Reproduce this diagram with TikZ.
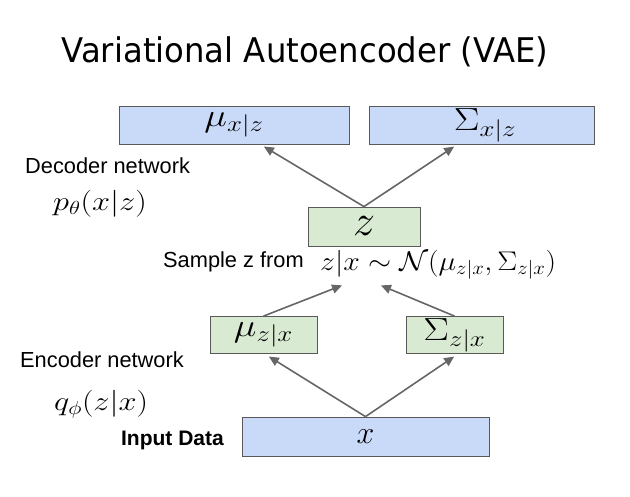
\RequirePackage{fix-cm}
\documentclass[tikz,border=0pt]{standalone}
\usepackage{fontspec}
\setsansfont{Liberation Sans}
\newfontfamily\titlefont{DejaVu Sans}
\usetikzlibrary{arrows.meta}
\definecolor{boxblue}{HTML}{C9DAF8}
\definecolor{boxgreen}{HTML}{D9EAD3}
\definecolor{edgegray}{HTML}{595959}
\definecolor{arrowgray}{HTML}{666666}
\newcommand{\wide}[2][1.2]{\scalebox{#1}[1]{$#2$}}
\begin{document}
\begin{tikzpicture}[x=1pt, y=-1pt,
  bluebox/.style={draw=edgegray, line width=0.8pt, fill=boxblue, inner sep=0pt},
  greenbox/.style={draw=edgegray, line width=0.8pt, fill=boxgreen, inner sep=0pt},
  link/.style={draw=arrowgray, line width=1.6pt, -{Triangle[length=10pt,width=9pt]}, shorten >=1pt},
  lbl/.style={font=\sffamily\fontsize{21.8}{25}\selectfont, anchor=west, inner sep=0pt},
  mth/.style={font=\fontsize{32}{38}\selectfont, inner sep=0pt},
  eqn/.style={font=\fontsize{27}{32}\selectfont, inner sep=0pt, anchor=base west}]
\useasboundingbox (0,0) rectangle (630,496);
\node[font=\titlefont\fontsize{34}{40}\selectfont, inner sep=0pt] (title) at (305,52){\scalebox{0.95}[1]{Variational Autoencoder (VAE)}};
\node[bluebox, minimum width=230pt, minimum height=38pt, mth] (muxz) at (234,125){\wide{\mu_{x|z}}};
\node[bluebox, minimum width=225pt, minimum height=38pt, mth] (sigxz) at (481.5,125){\hspace*{7pt}\raisebox{-5pt}{\wide{\Sigma_{x|z}}}};
\node[greenbox, minimum width=112pt, minimum height=39pt, mth, font=\fontsize{44}{50}\selectfont] (z) at (364,226.5){$z$};
\node[greenbox, minimum width=107pt, minimum height=37pt, mth] (muzx) at (263.5,335){\wide{\mu_{z|x}}};
\node[greenbox, minimum width=97pt, minimum height=37pt, mth] (sigzx) at (454.5,335){\wide{\Sigma_{z|x}}};
\node[bluebox, minimum width=247pt, minimum height=39pt, mth] (x) at (365.5,436.5){$x$};
\node[lbl] (dec) at (25,166){Decoder network};
\node[eqn] (ptheta) at (53,210){\wide{p_\theta(x|z)}};
\node[lbl] (samp) at (163,262){Sample z from};
\node[eqn] (dist) at (320,270){\wide[1.1]{z|x \sim \mathcal{N}(\mu_{z|x},\Sigma_{z|x})}};
\node[lbl] (enc) at (20,360){Encoder network};
\node[eqn] (qphi) at (54,410){\wide{q_\phi(z|x)}};
\node[lbl, anchor=east, font=\sffamily\bfseries\fontsize{21}{25}\selectfont] (inp) at (224,440){Input Data};
\coordinate (tipl) at (343,285);
\coordinate (tipr) at (380,285);
\draw[link] (z.north) -- (263,146);
\draw[link] (z.north) -- (455,146);
\draw[link] (muzx.north) -- (tipl);
\draw[link] (sigzx.north) -- (tipr);
\draw[link] (x.north) -- (268,356);
\draw[link] (x.north) -- (455,356);
\end{tikzpicture}
\end{document}
